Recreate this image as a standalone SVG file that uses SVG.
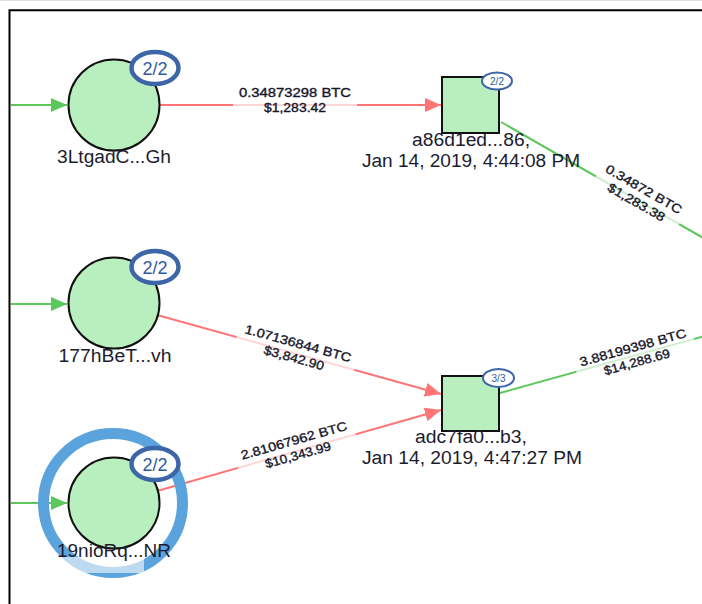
<svg xmlns="http://www.w3.org/2000/svg" width="702" height="604" viewBox="0 0 702 604">
  <defs>
    <marker id="arrow-red" markerUnits="userSpaceOnUse" markerWidth="16" markerHeight="14" refX="16" refY="7" orient="auto">
      <path d="M0,0 L16,7 L0,14 Z" fill="#ff7474"/>
    </marker>
    <marker id="arrow-green" markerUnits="userSpaceOnUse" markerWidth="16" markerHeight="14" refX="16" refY="7" orient="auto">
      <path d="M0,0 L16,7 L0,14 Z" fill="#5cc85c"/>
    </marker>
  </defs>
  <style>
    .frame { fill: none; stroke: #000; stroke-width: 2; }
    .edge-red { fill: none; stroke: #ff7474; stroke-width: 2; }
    .edge-green { fill: none; stroke: #5cc85c; stroke-width: 2; }
    .addr { fill: #b9efbf; stroke: #111; stroke-width: 2; }
    .tx { fill: #b9efbf; stroke: #111; stroke-width: 2; }
    .badge { fill: #fff; stroke: #3d66a8; stroke-width: 4.5; }
    .badge-sm { fill: #fff; stroke: #3d66a8; stroke-width: 2; }
    .badge-text { font-family: "Liberation Sans", Arial, sans-serif; font-size: 18px; fill: #2f5aa0; text-anchor: middle; }
    .badge-text-sm { font-family: "Liberation Sans", Arial, sans-serif; font-size: 10px; fill: #2f5aa0; text-anchor: middle; }
    .label { font-family: "Liberation Sans", Arial, sans-serif; font-size: 18px; fill: #1c1c30; text-anchor: middle; }
    .elabel { font-family: "Liberation Sans", Arial, sans-serif; font-size: 12.5px; fill: #15152a; stroke: #15152a; stroke-width: 0.35; text-anchor: middle; }
    .elabel-bg { fill: #fff; opacity: 0.7; }
    .ring { fill: none; stroke: #5ba3dc; stroke-width: 11; }
  </style>

  <rect width="702" height="604" fill="#fff"/>
  <line x1="0" y1="0.5" x2="702" y2="0.5" stroke="#ddd" stroke-width="1"/>
  <polyline class="frame" points="9.5,604 9.5,10.3 702,10.3"/>

  <!-- connectors -->
  <g id="connectors">
    <line class="edge-green" x1="11" y1="105" x2="67" y2="105" marker-end="url(#arrow-green)"/>
    <line class="edge-green" x1="11" y1="304" x2="67" y2="304" marker-end="url(#arrow-green)"/>
    <line class="edge-green" x1="11" y1="503" x2="67" y2="503" marker-end="url(#arrow-green)"/>

    <line class="edge-red" x1="160" y1="105" x2="441" y2="105" marker-end="url(#arrow-red)"/>
    <line class="edge-green" x1="501" y1="122" x2="712" y2="243"/>
    <line class="edge-red" x1="157" y1="315" x2="441" y2="394" marker-end="url(#arrow-red)"/>
    <line class="edge-red" x1="157" y1="491" x2="441" y2="410" marker-end="url(#arrow-red)"/>
    <line class="edge-green" x1="500" y1="393" x2="712" y2="334"/>

    <g transform="translate(295,100)">
      <rect class="elabel-bg" x="-62" y="-15" width="124" height="30"/>
      <text class="elabel" y="-3.5" textLength="112" lengthAdjust="spacingAndGlyphs">0.34873298 BTC</text>
      <text class="elabel" y="11.5" textLength="62" lengthAdjust="spacingAndGlyphs">$1,283.42</text>
    </g>
    <g transform="translate(640,196) rotate(29.9)">
      <rect class="elabel-bg" x="-48" y="-15" width="96" height="30"/>
      <text class="elabel" y="-3.5" textLength="86" lengthAdjust="spacingAndGlyphs">0.34872 BTC</text>
      <text class="elabel" y="11.5" textLength="64" lengthAdjust="spacingAndGlyphs">$1,283.38</text>
    </g>
    <g transform="translate(296,351) rotate(15.5)">
      <rect class="elabel-bg" x="-61" y="-15" width="122" height="30"/>
      <text class="elabel" y="-3.5" textLength="110" lengthAdjust="spacingAndGlyphs">1.07136844 BTC</text>
      <text class="elabel" y="11.5" textLength="62" lengthAdjust="spacingAndGlyphs">$3,842.90</text>
    </g>
    <g transform="translate(296,448) rotate(-15.9)">
      <rect class="elabel-bg" x="-61" y="-15" width="122" height="30"/>
      <text class="elabel" y="-3.5" textLength="110" lengthAdjust="spacingAndGlyphs">2.81067962 BTC</text>
      <text class="elabel" y="11.5" textLength="68" lengthAdjust="spacingAndGlyphs">$10,343.99</text>
    </g>
    <g transform="translate(635,355) rotate(-15.6)">
      <rect class="elabel-bg" x="-61" y="-15" width="122" height="30"/>
      <text class="elabel" y="-3.5" textLength="110" lengthAdjust="spacingAndGlyphs">3.88199398 BTC</text>
      <text class="elabel" y="11.5" textLength="68" lengthAdjust="spacingAndGlyphs">$14,288.69</text>
    </g>
  </g>

  <!-- address nodes -->
  <g id="node-3LtgadC">
    <circle class="addr" cx="114" cy="105" r="45.5"/>
    <ellipse class="badge" cx="155" cy="68" rx="23.5" ry="16"/>
    <text class="badge-text" x="155" y="74.5">2/2</text>
    <text class="label" x="114" y="163" textLength="114" lengthAdjust="spacingAndGlyphs">3LtgadC...Gh</text>
  </g>

  <g id="node-177hBeT">
    <circle class="addr" cx="114" cy="303" r="45.5"/>
    <ellipse class="badge" cx="155" cy="267" rx="23.5" ry="16"/>
    <text class="badge-text" x="155" y="273.5">2/2</text>
    <text class="label" x="115" y="362" textLength="113" lengthAdjust="spacingAndGlyphs">177hBeT...vh</text>
  </g>

  <g id="node-19nioRq">
    <circle class="ring" cx="113" cy="503" r="69.5"/>
    <rect x="52" y="557" width="92" height="16" fill="#fff" opacity="0.6"/>
    <circle class="addr" cx="114" cy="503" r="45.5"/>
    <ellipse class="badge" cx="155" cy="464" rx="23.5" ry="16"/>
    <text class="badge-text" x="155" y="470.5">2/2</text>
    <text class="label" x="114" y="557" textLength="114" lengthAdjust="spacingAndGlyphs">19nioRq...NR</text>
  </g>

  <!-- transaction nodes -->
  <g id="node-a86d1ed">
    <rect class="tx" x="442" y="77" width="57" height="56"/>
    <ellipse class="badge-sm" cx="497" cy="81" rx="15" ry="8.5"/>
    <text class="badge-text-sm" x="497" y="84.5">2/2</text>
    <text class="label" x="471" y="146" textLength="118" lengthAdjust="spacingAndGlyphs">a86d1ed...86,</text>
    <text class="label" x="471" y="167" textLength="218" lengthAdjust="spacingAndGlyphs">Jan 14, 2019, 4:44:08 PM</text>
  </g>

  <g id="node-adc7fa0">
    <rect class="tx" x="442" y="376" width="57" height="55"/>
    <ellipse class="badge-sm" cx="498.5" cy="378" rx="15.5" ry="9"/>
    <text class="badge-text-sm" x="498.5" y="381.5">3/3</text>
    <text class="label" x="471" y="443" textLength="112" lengthAdjust="spacingAndGlyphs">adc7fa0...b3,</text>
    <text class="label" x="472" y="464" textLength="220" lengthAdjust="spacingAndGlyphs">Jan 14, 2019, 4:47:27 PM</text>
  </g>
</svg>
